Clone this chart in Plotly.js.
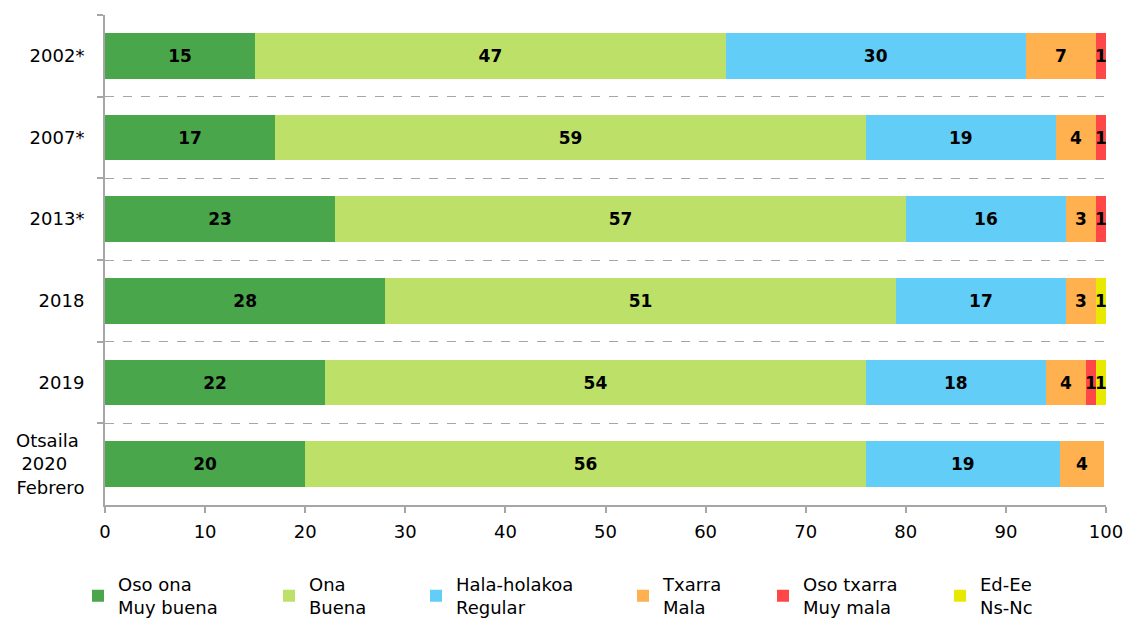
<!DOCTYPE html>
<html>
<head>
<meta charset="utf-8">
<script src="https://cdn.plot.ly/plotly-3.0.1.min.js"></script>
<style>html,body{margin:0;padding:0;background:#fff;}#chart{width:1126px;height:622px;}</style>
</head>
<body>
<div id="chart"></div>
<script>
const categories = ["2002*", "2007*", "2013*", "2018", "2019", "Otsaila&nbsp;<br>2020&nbsp;&nbsp;&nbsp;<br>Febrero"];
const seriesNames = ["Oso ona<br>Muy buena", "Ona<br>Buena", "Hala-holakoa<br>Regular", "Txarra<br>Mala", "Oso txarra<br>Muy mala", "Ed-Ee<br>Ns-Nc"];
const osoOna    = [15, 17, 23, 28, 22, 20];
const ona       = [47, 59, 57, 51, 54, 56];
const halaHola  = [30, 19, 16, 17, 18, 19.4];
const txarra    = [7, 4, 3, 3, 4, 4.4];
const osoTxarra = [1, 1, 1, 0, 1, 0];
const edEe      = [0, 0, 0, 1, 1, 0];
const seriesValues = [osoOna, ona, halaHola, txarra, osoTxarra, edEe];
const colors = ["#4aa64a", "#bde068", "#62cdf6", "#ffb04f", "#ff4747", "#e8e800"];
const legendTextLeft = [118, 309, 456, 663, 803, 980];

const FONT = "DejaVu Sans, Liberation Sans, Arial, sans-serif";
const plotL = 105, plotW = 1001;

const traces = seriesValues.map((vals, i) => ({
  type: "bar",
  orientation: "h",
  name: seriesNames[i],
  legend: i === 0 ? "legend" : "legend" + (i + 1),
  y: categories,
  x: vals,
  marker: {color: colors[i], line: {width: 0}},
  text: vals.map(v => v > 0 ? String(Math.round(v)) : ""),
  textposition: "inside",
  insidetextanchor: "middle",
  constraintext: "none",
  cliponaxis: false,
  textfont: {family: FONT, size: 17, color: "#000", weight: "bold"},
  hoverinfo: "x+name"
}));

const layout = {
  width: 1126, height: 622,
  margin: {l: plotL, r: 20, t: 15, b: 117, autoexpand: false},
  barmode: "stack",
  bargap: 0.44,
  paper_bgcolor: "#fff",
  plot_bgcolor: "#fff",
  font: {family: FONT, size: 18, color: "#000"},
  showlegend: true,
  xaxis: {
    range: [0, 100],
    tickmode: "linear", tick0: 0, dtick: 10,
    showgrid: false, zeroline: false,
    showline: true, linecolor: "#a6a6a6", linewidth: 2,
    ticks: "outside", ticklen: 6, tickcolor: "#a6a6a6", tickwidth: 2,
    tickfont: {size: 18},
    ticklabelstandoff: 3
  },
  yaxis: {
    autorange: "reversed",
    type: "category",
    tickson: "boundaries",
    showgrid: true, gridcolor: "#a6a6a6", griddash: "dash", gridwidth: 1,
    showline: true, linecolor: "#a6a6a6", linewidth: 2,
    ticks: "outside", ticklen: 6, tickcolor: "#a6a6a6", tickwidth: 2,
    tickfont: {size: 18},
    ticklabelstandoff: 15
  }
};

legendTextLeft.forEach((px, i) => {
  const key = i === 0 ? "legend" : "legend" + (i + 1);
  layout[key] = {
    x: (px - 40 - plotL) / plotW, xanchor: "left",
    y: -0.124, yanchor: "top",
    font: {family: FONT, size: 18, color: "#000"},
    bgcolor: "rgba(0,0,0,0)",
    itemwidth: 30
  };
});

Plotly.newPlot("chart", traces, layout, {displayModeBar: false, staticPlot: true});
</script>
</body>
</html>
